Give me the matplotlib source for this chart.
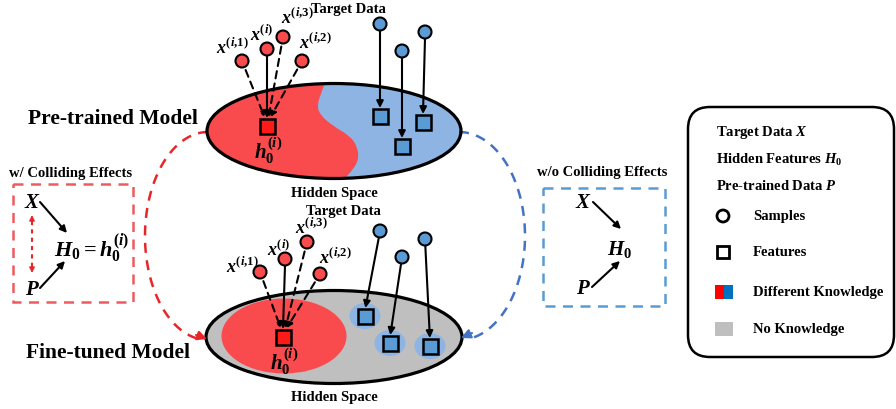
import numpy as np
import matplotlib
matplotlib.use("Agg")
import matplotlib.pyplot as plt
from matplotlib.patches import Ellipse, Rectangle, Circle, FancyBboxPatch, PathPatch
from matplotlib.path import Path

plt.rcParams['font.family'] = ['Liberation Serif', 'DejaVu Serif']
plt.rcParams['font.weight'] = 'bold'
plt.rcParams['mathtext.fontset'] = 'custom'
plt.rcParams['mathtext.rm'] = 'Liberation Serif:bold'
plt.rcParams['mathtext.bf'] = 'Liberation Serif:bold'
plt.rcParams['mathtext.it'] = 'Liberation Serif:italic:bold'

# colours
RED = '#F94B4E'
RED_SQ = '#FF1A1A'
BLUE = '#5B9BD5'
LIGHT_BLUE = '#8DB4E2'
GRAY = '#BFBFBF'
ARC_RED = '#E8262A'
ARC_BLUE = '#4472C4'
BOX_RED = '#EE5A5E'
BOX_BLUE = '#5B9BD5'

# top panel (pre-trained model), pixel coordinates
top_center = (334, 132)
top_red_sq = (267, 127)
top_red_pts = [(242, 62), (267, 50), (283, 38), (302, 62)]
top_red_lbl = [(232, 48, r'$x^{(i{,}1)}$'), (262, 35, r'$x^{(i)}$'),
               (297, 18, r'$x^{(i{,}3)}$'), (315, 43, r'$x^{(i{,}2)}$')]
top_blue_pts = [(380, 25), (402, 52), (425, 33)]
top_blue_sq = [(380, 117), (402, 147), (423, 123)]
# S-shaped border between the two knowledge regions
top_border = [(327, 78), (322, 92), (317, 106), (320, 116), (333, 127), (350, 137),
              (357, 147), (359, 160), (352, 172), (343, 181), (340, 190)]

# bottom panel (fine-tuned model)
bot_center = (334, 338)
bot_red_sq = (283, 338)
bot_red_pts = [(260, 273), (285, 260), (307, 243), (320, 275)]
bot_red_lbl = [(242, 267, r'$x^{(i{,}1)}$'), (279, 250, r'$x^{(i)}$'),
               (311, 228, r'$x^{(i{,}3)}$'), (335, 258, r'$x^{(i{,}2)}$')]
bot_blue_pts = [(380, 232), (402, 258), (425, 240)]
bot_blue_sq = [(365, 317), (390, 344), (430, 347)]

legend_y = [133, 160, 186, 217, 253, 293, 330]
legend_txt = [r'Target Data $X$', r'Hidden Features $H_0$', r'Pre-trained Data $P$',
              'Samples', 'Features', 'Different Knowledge', 'No Knowledge']

fig = plt.figure(figsize=(8.96, 4.10), dpi=100)
ax = fig.add_axes([0, 0, 1, 1])
ax.set_xlim(0, 896)
ax.set_ylim(410, 0)
ax.axis('off')


def arrow(p0, p1, color='black', lw=1.5, ms=10):
    ax.annotate('', xy=p1, xytext=p0,
                arrowprops=dict(arrowstyle='-|>', color=color, lw=lw,
                                mutation_scale=ms, shrinkA=0, shrinkB=0))


def square(c, fc, s=15, z=6):
    ax.add_patch(Rectangle((c[0] - s / 2, c[1] - s / 2), s, s, fc=fc, ec='black', lw=1.8, zorder=z))


def circle(c, fc, r=6.5, z=6):
    ax.add_patch(Circle(c, r, fc=fc, ec='black', lw=1.5, zorder=z))


def smooth_path(pts):
    verts = [pts[0]]
    codes = [Path.MOVETO]
    for i in range(1, len(pts) - 1):
        mid = ((pts[i][0] + pts[i + 1][0]) / 2, (pts[i][1] + pts[i + 1][1]) / 2)
        verts += [pts[i], mid]
        codes += [Path.CURVE3, Path.CURVE3]
    verts.append(pts[-1])
    codes.append(Path.LINETO)
    return verts, codes


def red_links(pts, sq):
    for i, p in enumerate(pts):
        if i == 1:
            arrow((p[0], p[1] + 6.5), (sq[0], sq[1] - 8))
        else:
            ax.annotate('', xy=(sq[0] + (p[0] - sq[0]) * 0.1, sq[1] - 9),
                        xytext=p, arrowprops=dict(arrowstyle='-|>', color='black', lw=1.5,
                                                  linestyle=(0, (3.5, 2.5)), mutation_scale=8,
                                                  shrinkA=7, shrinkB=0), zorder=5)


# ---------------- top ellipse ----------------
ell_top = Ellipse(top_center, 254, 95, fc=LIGHT_BLUE, ec='none', zorder=1)
ax.add_patch(ell_top)
v, c = smooth_path(top_border)
v = v + [(150, 190), (150, 70), (327, 70), (327, 78)]
c = c + [Path.LINETO, Path.LINETO, Path.LINETO, Path.CLOSEPOLY]
red_region = PathPatch(Path(v, c), fc=RED, ec='none', zorder=2)
ax.add_patch(red_region)
red_region.set_clip_path(ell_top)
ax.add_patch(Ellipse(top_center, 254, 95, fc='none', ec='black', lw=2.3, zorder=3))

square(top_red_sq, RED_SQ)
ax.text(top_red_sq[0] + 1, 151, r'$h_0^{(i)}$', fontsize=15, ha='center', va='center', zorder=7)
for p, (lx, ly, s) in zip(top_red_pts, top_red_lbl):
    circle(p, RED)
    ax.text(lx, ly, s, fontsize=13, ha='center', va='center', zorder=7)
red_links(top_red_pts, top_red_sq)
for p, q in zip(top_blue_pts, top_blue_sq):
    circle(p, BLUE)
    square(q, BLUE)
    arrow((p[0], p[1] + 6.5), (q[0], q[1] - 8))
ax.text(348, 9, 'Target Data', fontsize=10.5, ha='center', va='center')
ax.text(334, 194, 'Hidden Space', fontsize=10.5, ha='center', va='center')
ax.text(113, 119, 'Pre-trained Model', fontsize=15.5, ha='center', va='center')

# ---------------- bottom ellipse ----------------
ax.add_patch(Ellipse(bot_center, 256, 93, fc=GRAY, ec='black', lw=2.3, zorder=1))
ax.add_patch(Ellipse((284, 337), 125, 75, fc=RED, ec='none', zorder=2))
for q in bot_blue_sq:
    ax.add_patch(Ellipse(q, 31, 26, fc=LIGHT_BLUE, ec='none', zorder=2))
square(bot_red_sq, RED_SQ)
ax.text(bot_red_sq[0] + 1, 362, r'$h_0^{(i)}$', fontsize=15, ha='center', va='center', zorder=7)
for p, (lx, ly, s) in zip(bot_red_pts, bot_red_lbl):
    circle(p, RED)
    ax.text(lx, ly, s, fontsize=13, ha='center', va='center', zorder=7)
red_links(bot_red_pts, bot_red_sq)
for p, q in zip(bot_blue_pts, bot_blue_sq):
    circle(p, BLUE)
    square(q, BLUE)
    ang = np.arctan2(q[1] - p[1], q[0] - p[0])
    arrow((p[0] + 6.5 * np.cos(ang), p[1] + 6.5 * np.sin(ang)),
          (q[0] - 8 * np.cos(ang) * 0.3, q[1] - 8))
ax.text(343, 212, 'Target Data', fontsize=10.5, ha='center', va='center')
ax.text(334, 398, 'Hidden Space', fontsize=10.5, ha='center', va='center')
ax.text(108, 353, 'Fine-tuned Model', fontsize=15.5, ha='center', va='center')

# ---------------- dashed arcs ----------------
t = np.linspace(-np.pi / 2, np.pi / 2 - 0.12, 100)
ax.plot(208 - 63 * np.cos(t), 237 + 104 * np.sin(t), color=ARC_RED, lw=1.8, ls=(0, (4, 3)))
arrow((196, 336), (207, 340), color=ARC_RED, lw=1.5, ms=14)
ax.plot(459 + 66 * np.cos(t), 237 + 104 * np.sin(t), color=ARC_BLUE, lw=1.8, ls=(0, (4, 3)))
arrow((472, 334), (461, 339), color=ARC_BLUE, lw=1.5, ms=14)

# ---------------- w/ colliding effects box ----------------
ax.add_patch(Rectangle((13, 185), 120, 118, fc='none', ec=BOX_RED, lw=1.8, ls=(0, (4, 3))))
ax.text(71, 174, 'w/ Colliding Effects', fontsize=10.5, ha='center', va='center')
ax.text(32, 203, r'$X$', fontsize=15, ha='center', va='center')
ax.text(32, 290, r'$P$', fontsize=15, ha='center', va='center')
ax.text(92, 248, r'$H_0 = h_0^{(i)}$', fontsize=16, ha='center', va='center')
arrow((40, 203), (67, 234))
arrow((40, 289), (65, 262))
ax.plot([32, 32], [222, 268], color=ARC_RED, lw=1.5, ls=(0, (2, 2)))
arrow((32, 224), (32, 216), color=ARC_RED, lw=1, ms=8)
arrow((32, 266), (32, 274), color=ARC_RED, lw=1, ms=8)

# ---------------- w/o colliding effects box ----------------
ax.add_patch(Rectangle((543, 189), 122, 118, fc='none', ec=BOX_BLUE, lw=1.8, ls=(0, (4, 3))))
ax.text(602, 173, 'w/o Colliding Effects', fontsize=10.5, ha='center', va='center')
ax.text(583, 203, r'$X$', fontsize=15, ha='center', va='center')
ax.text(583, 289, r'$P$', fontsize=15, ha='center', va='center')
ax.text(620, 249, r'$H_0$', fontsize=15, ha='center', va='center')
arrow((593, 203), (621, 230))
arrow((592, 288), (620, 262))

# ---------------- legend box ----------------
ax.add_patch(FancyBboxPatch((688, 108), 206, 250, boxstyle='round,pad=0,rounding_size=22',
                            fc='white', ec='black', lw=1.8))
for y, s in zip(legend_y[:3], legend_txt[:3]):
    ax.text(716, y, s, fontsize=10.5, ha='left', va='center')
for y, s in zip(legend_y[3:], legend_txt[3:]):
    ax.text(753, y, s, fontsize=10.5, ha='left', va='center')
ax.add_patch(Circle((723, legend_y[3]), 6, fc='white', ec='black', lw=2))
ax.add_patch(Rectangle((717, legend_y[4] - 6), 12, 12, fc='white', ec='black', lw=2))
ax.add_patch(Rectangle((715, legend_y[5] - 7), 9, 14, fc='#FF0000', ec='none'))
ax.add_patch(Rectangle((724, legend_y[5] - 7), 9, 14, fc='#0070C0', ec='none'))
ax.add_patch(Rectangle((715, legend_y[6] - 7), 18, 14, fc=GRAY, ec='none'))

fig.savefig('out.png', dpi=100)
